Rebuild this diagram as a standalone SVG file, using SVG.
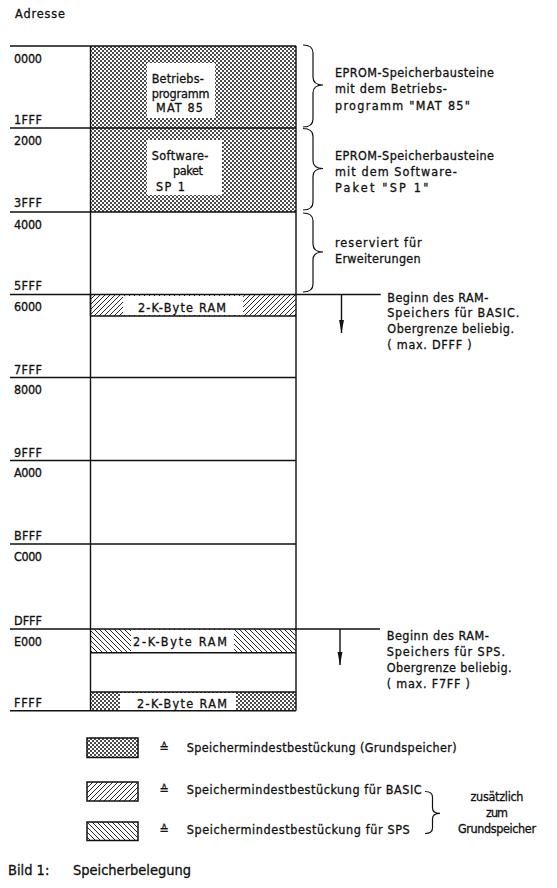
<svg xmlns="http://www.w3.org/2000/svg" width="557" height="888" viewBox="0 0 557 888">
<style>
.t{font-family:"DejaVu Sans Condensed","Liberation Sans Narrow","DejaVu Sans",sans-serif;font-size:12.5px;fill:#111;stroke:#111;stroke-width:0.3}
.lab{font-family:"DejaVu Sans Condensed","Liberation Sans Narrow","DejaVu Sans",sans-serif;font-size:12.5px;fill:#111;stroke:#111;stroke-width:0.3}
.cap{font-family:"DejaVu Sans Condensed","Liberation Sans Narrow","DejaVu Sans",sans-serif;font-size:14.5px;fill:#111;stroke:#111;stroke-width:0.3}
.ln{stroke:#111;stroke-width:1.4;fill:none}
.br{stroke:#111;stroke-width:1.2;fill:none}
.bx{stroke:#111;stroke-width:1.5}
.wh{fill:#fff;stroke:none}
</style>
<defs>
<pattern id="grund" width="4" height="4" patternUnits="userSpaceOnUse">
<rect width="4" height="4" fill="#fff"/>
<circle cx="1" cy="1" r="1" fill="#111"/>
<circle cx="3" cy="3" r="1" fill="#111"/>
</pattern>
<pattern id="basic" width="5" height="5" patternUnits="userSpaceOnUse">
<rect width="5" height="5" fill="#fff"/>
<path d="M-1,1 L1,-1 M0,5 L5,0 M4,6 L6,4" stroke="#111" stroke-width="0.9"/>
</pattern>
<pattern id="sps" width="5" height="5" patternUnits="userSpaceOnUse">
<rect width="5" height="5" fill="#fff"/>
<path d="M-1,4 L1,6 M0,0 L5,5 M4,-1 L6,1" stroke="#111" stroke-width="0.9"/>
</pattern>
<marker id="ah" markerWidth="14" markerHeight="7" refX="13.5" refY="3.5" orient="auto" markerUnits="userSpaceOnUse">
<path d="M0,1 L14,3.5 L0,6 z" fill="#111"/>
</marker>
</defs>

<g id="header">
<text class="t" x="15" y="18" font-size="13" textLength="50">Adresse</text>
</g>

<g id="eprom-mat85">
<rect x="90.5" y="46" width="205.5" height="82" fill="url(#grund)"/>
<rect class="wh" x="147" y="63" width="68" height="55"/>
<text class="t" x="151.7" y="83" textLength="52">Betriebs-</text>
<text class="t" x="151.7" y="97.5" textLength="57.7">programm</text>
<text class="t" x="156" y="112" textLength="47">MAT 85</text>
</g>

<g id="eprom-sp1">
<rect x="90.5" y="128" width="205.5" height="84" fill="url(#grund)"/>
<rect class="wh" x="147" y="140" width="75" height="55"/>
<text class="t" x="151.7" y="160" textLength="56.7">Software-</text>
<text class="t" x="173" y="175" textLength="30">paket</text>
<text class="t" x="156" y="191" textLength="29">SP 1</text>
</g>

<g id="ram-basic">
<rect x="90.5" y="294.5" width="205.5" height="21.5" fill="url(#basic)"/>
<rect class="wh" x="123" y="296" width="120" height="19"/>
<text class="t" x="138" y="311.5" textLength="88">2-K-Byte RAM</text>
</g>

<g id="ram-sps">
<rect x="90.5" y="629" width="205.5" height="23.7" fill="url(#sps)"/>
<rect class="wh" x="131" y="630" width="103" height="22"/>
<text class="t" x="133" y="645.5" textLength="94">2-K-Byte RAM</text>
</g>

<g id="ram-grund">
<rect x="90.5" y="692" width="205.5" height="18.7" fill="url(#grund)"/>
<rect class="wh" x="120" y="693" width="116" height="17"/>
<text class="t" x="137" y="707.5" textLength="90">2-K-Byte RAM</text>
</g>

<g id="memory-frame">
<path class="ln" d="M10,46 H296 M10,128 H296 M10,212 H296 M10,294.5 H296 M10,377.5 H296 M10,460.5 H296 M10,544 H296 M10,629 H296 M10,710.7 H296"/>
<path class="ln" d="M90.5,294.5 V316 M90.5,316 H296 M90.5,652.7 H296 M90.5,692 H296"/>
<path class="ln" d="M90.5,46 V710.7 M296,46 V710.7"/>
</g>

<g id="address-labels">
<text class="lab" x="14" y="62.5" textLength="28">0000</text>
<text class="lab" x="14" y="123.5" textLength="28">1FFF</text>
<text class="lab" x="14" y="144.5" textLength="28">2000</text>
<text class="lab" x="14" y="207" textLength="28">3FFF</text>
<text class="lab" x="14" y="228.5" textLength="28">4000</text>
<text class="lab" x="14" y="290" textLength="28">5FFF</text>
<text class="lab" x="14" y="311" textLength="28">6000</text>
<text class="lab" x="14" y="373.5" textLength="28">7FFF</text>
<text class="lab" x="14" y="394" textLength="28">8000</text>
<text class="lab" x="14" y="456.5" textLength="28">9FFF</text>
<text class="lab" x="14" y="477" textLength="28">A000</text>
<text class="lab" x="14" y="540" textLength="28">BFFF</text>
<text class="lab" x="14" y="560.5" textLength="28">C000</text>
<text class="lab" x="14" y="624.5" textLength="28">DFFF</text>
<text class="lab" x="14" y="645.5" textLength="28">E000</text>
<text class="lab" x="14" y="707" textLength="28">FFFF</text>
</g>

<g id="note-eprom-mat85">
<text class="t" x="335" y="77" textLength="159">EPROM-Speicherbausteine</text>
<text class="t" x="335" y="93.3" textLength="111.7">mit dem Betriebs-</text>
<text class="t" x="335" y="109.5" textLength="135">programm  "MAT 85"</text>
</g>

<g id="note-eprom-sp1">
<text class="t" x="335" y="160" textLength="159">EPROM-Speicherbausteine</text>
<text class="t" x="335" y="176" textLength="121.7">mit dem Software-</text>
<text class="t" x="335" y="192.3" textLength="93.3">Paket "SP 1"</text>
</g>

<g id="note-reserved">
<text class="t" x="335" y="246.7" textLength="86.7">reserviert für</text>
<text class="t" x="335" y="263.3" textLength="85.7">Erweiterungen</text>
</g>

<g id="note-basic">
<text class="t" x="387.3" y="302" textLength="101">Beginn des RAM-</text>
<text class="t" x="387.3" y="317" textLength="132">Speichers für BASIC.</text>
<text class="t" x="387.3" y="332.5" textLength="126.7">Obergrenze beliebig.</text>
<text class="t" x="387.3" y="349" textLength="84.3">( max. DFFF )</text>
</g>

<g id="note-sps">
<text class="t" x="386.7" y="640" textLength="102">Beginn des RAM-</text>
<text class="t" x="386.7" y="656" textLength="118.3">Speichers für SPS.</text>
<text class="t" x="386.7" y="672" textLength="125">Obergrenze beliebig.</text>
<text class="t" x="386.7" y="688" textLength="83.3">( max. F7FF )</text>
</g>

<g id="connectors">
<path class="ln" d="M296,294.5 H380.7 M296,629 H380"/>
<path class="ln" d="M341.5,294.5 V333" marker-end="url(#ah)"/>
<path class="ln" d="M340,629 V665" marker-end="url(#ah)"/>
<path class="br" d="M303,45 Q313,45 313,53 L313,77 Q313,85 323,85 Q313,85 313,93 L313,119 Q313,127 303,127"/>
<path class="br" d="M303,128.5 Q313,128.5 313,136.5 L313,160.5 Q313,168.5 323,168.5 Q313,168.5 313,176.5 L313,202 Q313,210 303,210"/>
<path class="br" d="M303,213 Q313,213 313,221 L313,244 Q313,252 323,252 Q313,252 313,260 L313,284 Q313,292 303,292"/>
<path class="br" d="M425,791.5 Q432.5,791.5 432.5,797 L432.5,808 Q432.5,813.3 440,813.3 Q432.5,813.3 432.5,819 L432.5,828 Q432.5,833.5 425,833.5"/>
</g>

<g id="legend-grund">
<rect class="bx" x="87" y="738" width="51" height="19.5" fill="url(#grund)"/>
<text class="t" x="159.5" y="752">≙</text>
<text class="t" x="186.7" y="752" textLength="270">Speichermindestbestückung (Grundspeicher)</text>
</g>

<g id="legend-basic">
<rect class="bx" x="87" y="782" width="51" height="19" fill="url(#basic)"/>
<text class="t" x="159.5" y="794">≙</text>
<text class="t" x="186.7" y="794" textLength="235">Speichermindestbestückung für BASIC</text>
</g>

<g id="legend-sps">
<rect class="bx" x="87" y="822" width="51" height="18.5" fill="url(#sps)"/>
<text class="t" x="159.5" y="834">≙</text>
<text class="t" x="186.7" y="834" textLength="223">Speichermindestbestückung für SPS</text>
</g>

<g id="legend-note">
<text class="t" x="497" y="801" text-anchor="middle" textLength="53">zusätzlich</text>
<text class="t" x="497" y="817" text-anchor="middle" textLength="22">zum</text>
<text class="t" x="497" y="832.5" text-anchor="middle" textLength="78">Grundspeicher</text>
</g>

<g id="caption">
<text class="cap" x="8" y="875">Bild 1:</text>
<text class="cap" x="73" y="875" textLength="118">Speicherbelegung</text>
</g>
</svg>
